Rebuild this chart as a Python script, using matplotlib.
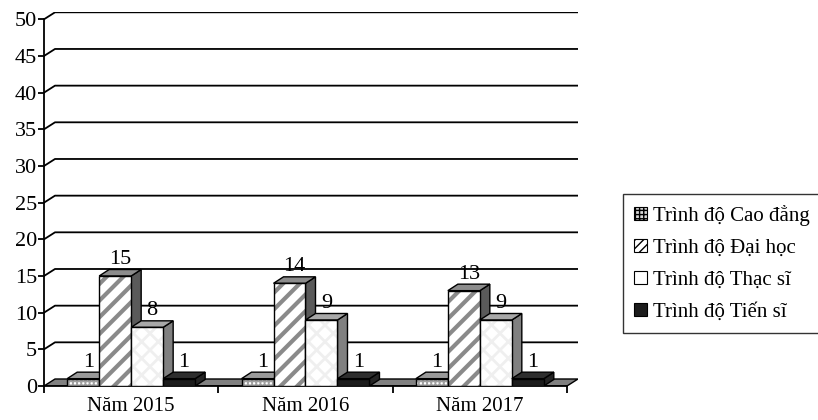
import numpy as np
import matplotlib
matplotlib.use("Agg")
import matplotlib.pyplot as plt
from matplotlib.patches import Patch

plt.rcParams['font.family'] = ['Liberation Serif', 'DejaVu Serif']

# data
years = ["Năm 2015", "Năm 2016", "Năm 2017"]
series = ["Trình độ Cao đẳng", "Trình độ Đại học", "Trình độ Thạc sĩ", "Trình độ Tiến sĩ"]
cao_dang = [1, 1, 1]
dai_hoc = [15, 14, 13]
thac_si = [8, 9, 9]
tien_si = [1, 1, 1]
values = [cao_dang, dai_hoc, thac_si, tien_si]
yticks = list(range(0, 51, 5))

# styles: front, top, side, hatch, hatch colour
styles = [
    dict(front="white", top="#9a9a9a", side="#7a7a7a", hatch="++++", hc="#a0a0a0", hlw=1.4),
    dict(front="white", top="#8c8c8c", side="#5a5a5a", hatch="//", hc="#8a8a8a", hlw=3.0),
    dict(front="white", top="#a8a8a8", side="#808080", hatch="xx", hc="#efefef", hlw=2.0),
    dict(front="#1c1c1c", top="#2e2e2e", side="#242424", hatch=None, hc=None, hlw=1.0),
]

W, H = 818, 420
fig = plt.figure(figsize=(W / 100, H / 100), dpi=100)

# depth of floor / bars in data units
ddx, ddy = 11 / 174.3, 7 / 7.334
bdx, bdy = 10 / 174.3, 6.5 / 7.334
ax = fig.add_axes([44 / W, 34 / H, (578 - 44) / W, (407.7 - 34) / H])
ax.set_xlim(-0.5, 2.5 + ddx)
ax.set_ylim(0, 50 + ddy)
for s in ["top", "right"]:
    ax.spines[s].set_visible(False)
ax.spines["left"].set_bounds(0, 50)
ax.spines["bottom"].set_bounds(-0.5, 2.5)
ax.spines["left"].set_linewidth(1.3)
ax.spines["bottom"].set_linewidth(1.3)
ax.patch.set_visible(False)

# back wall gridlines
for v in yticks[1:]:
    ax.plot([-0.5, -0.5 + ddx, 2.5 + ddx], [v, v + ddy, v + ddy], color="black", lw=1.3, zorder=1)

# floor
ax.fill([-0.5, 2.5, 2.5 + ddx, -0.5 + ddx], [0, 0, ddy, ddy],
        facecolor="#808080", edgecolor="black", lw=1.0, zorder=2)

w = 0.1835
x = np.arange(len(years))
z = 3
for j in range(len(years)):
    for i, vals in enumerate(values):
        st = styles[i]
        xl = x[j] - 2 * w + i * w
        h = vals[j]
        # side face
        ax.fill([xl + w, xl + w + bdx, xl + w + bdx, xl + w], [0, bdy, h + bdy, h],
                facecolor=st["side"], edgecolor="black", lw=1.0, zorder=z)
        # top face
        ax.fill([xl, xl + w, xl + w + bdx, xl + bdx], [h, h, h + bdy, h + bdy],
                facecolor=st["top"], edgecolor="black", lw=1.0, zorder=z)
        # front face
        ax.bar(xl, h, width=w, align="edge", color=st["front"], lw=0, zorder=z + 0.1)
        if st["hatch"]:
            b = ax.bar(xl, h, width=w, align="edge", fill=False, hatch=st["hatch"],
                       edgecolor=st["hc"], lw=0, zorder=z + 0.2)
            for p in b:
                if hasattr(p, "set_hatch_linewidth"):
                    p.set_hatch_linewidth(st["hlw"])
        ax.bar(xl, h, width=w, align="edge", fill=False, edgecolor="black", lw=1.0, zorder=z + 0.3)
        ax.text(xl + w / 2 + bdx / 2, h + bdy + 0.05, str(h), ha="center", va="bottom",
                fontsize=16, zorder=50)
        z += 1

# axes ticks
ax.set_yticks(yticks)
ax.set_yticklabels([str(t) for t in yticks], fontsize=16)
ax.tick_params(axis="y", length=4, width=1.3, pad=1, direction="out")
ax.set_xticks(x)
ax.set_xticklabels(years, fontsize=15)
ax.set_xticks([-0.5, 0.5, 1.5, 2.5], minor=True)
ax.tick_params(axis="x", which="major", length=0, pad=8)
ax.tick_params(axis="x", which="minor", length=5, width=1.3, direction="out")

# legend
handles = []
for i, st in enumerate(styles):
    handles.append(Patch(facecolor=st["front"] if i != 0 else "#d8d8d8",
                         edgecolor="black", hatch=st["hatch"] if i == 0 else ("////" if i == 1 else None),
                         lw=0.8, label=series[i]))
leg = fig.legend(handles=handles, loc="center left", bbox_to_anchor=(623 / W, (420 - 263.5) / H),
                 fontsize=15, frameon=True, fancybox=False, handlelength=0.6, handleheight=0.6,
                 handletextpad=0.3, labelspacing=0.62, borderpad=0.55, borderaxespad=0)
leg.get_frame().set_edgecolor("black")
leg.get_frame().set_linewidth(1.0)

fig.savefig("out.png", dpi=100)
